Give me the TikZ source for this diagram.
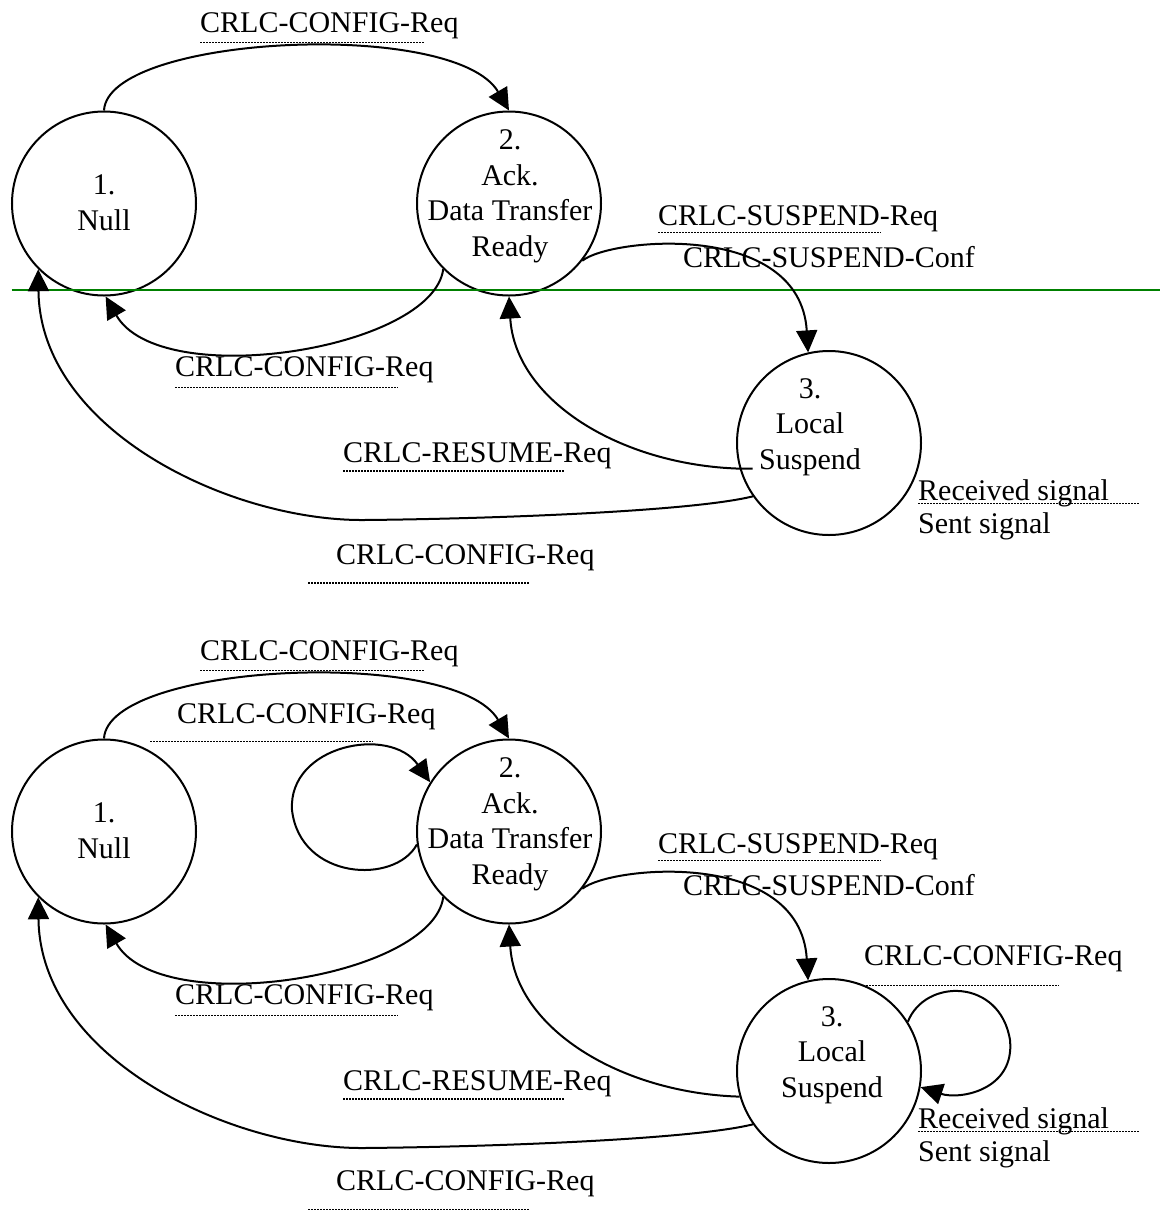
\documentclass[tikz,border=0pt]{standalone}
\usepackage{fontspec}
\setmainfont{Liberation Serif}
\usetikzlibrary{arrows.meta}
\definecolor{divider}{RGB}{0,128,0}
\begin{document}
\begin{tikzpicture}[x=1pt,y=-1pt,
  state/.style={circle,draw,line width=2pt,minimum size=184pt,inner sep=0pt},
  statetext/.style={align=center,inner sep=0pt,anchor=north,font=\fontsize{30}{35.5}\selectfont},
  lbl/.style={anchor=base west,inner sep=0pt,font=\fontsize{30}{36}\selectfont},
  trans/.style={line width=2pt,-{Triangle[length=22pt,width=21pt]}},
  dotline/.style={line width=1.5pt,dash pattern=on 1.5pt off 1.5pt},
]
\useasboundingbox (0,0) rectangle (1160,1211);

% ---------------- upper state diagram ----------------
\node[state] (n1) at (104,203.5) {};
\node[state] (n2) at (509,203.5) {};
\node[state] (n3) at (829,443) {};
\node[statetext] (n1t) at (104,174.7) {1.\\Null};
\node[statetext] (n2t) at (510,129.7) {2.\\Ack.\\Data Transfer\\Ready};
\node[statetext] (n3t) at (810,378) {3.\\Local\\Suspend};

\draw[divider,line width=2pt] (11.7,290) -- (1160,290);

\draw[trans] (n1.90) .. controls (108,35) and (455,18) .. (n2.90);
\draw[trans] (n2.225) .. controls (432,350) and (160,392) .. (n1.-89);
\draw[trans] (n2.-38) .. controls (610,238) and (800,220) .. (n3.103);
\draw[trans] ([xshift=13pt]n3.196) -- (n3.196) .. controls (620,465) and (515,400) .. (n2.-90);
\draw[trans] (n3.215) .. controls (690,512) and (480,519) .. (364,520)
             .. controls (230,521) and (40,430) .. (n1.225);

\node[lbl] (a1) at (200,32.5) {CRLC-CONFIG-Req};
\draw[dotline] (200,42.3) -- (424,42.3);
\node[lbl] (a2) at (175,376) {CRLC-CONFIG-Req};
\draw[dotline] (175,387.5) -- (398,387.5);
\node[lbl] (a3) at (658,225) {CRLC-SUSPEND-Req};
\draw[dotline] (658,232.7) -- (881,232.7);
\node[lbl] (a4) at (683,267) {CRLC-SUSPEND-Conf};
\node[lbl] (a5) at (343,462) {CRLC-RESUME-Req};
\draw[dotline] (343,471) -- (565,471);
\node[lbl] (a6) at (336,564) {CRLC-CONFIG-Req};
\draw[dotline] (308,583) -- (530,583);
\node[lbl] (a7) at (918,500) {Received signal};
\draw[dotline] (918,503.5) -- (1140,503.5);
\node[lbl] (a8) at (918,533.5) {Sent signal};

% ---------------- lower state diagram ----------------
\begin{scope}[shift={(0,628)}]
\node[state] (m1) at (104,203.5) {};
\node[state] (m2) at (509,203.5) {};
\node[state] (m3) at (829,443) {};
\node[statetext] (m1t) at (104,174.7) {1.\\Null};
\node[statetext] (m2t) at (510,129.7) {2.\\Ack.\\Data Transfer\\Ready};
\node[statetext] (m3t) at (832,378) {3.\\Local\\Suspend};

\draw[trans] (m1.90) .. controls (108,35) and (455,18) .. (m2.90);
\draw[trans] (m2.188) .. controls (395,257) and (300,252) .. (292,182)
             .. controls (288,117) and (390,97) .. (m2.148);
\draw[trans] (m2.225) .. controls (432,350) and (160,392) .. (m1.-89);
\draw[trans] (m2.-38) .. controls (610,238) and (800,220) .. (m3.103);
\draw[trans] (m3.196) .. controls (620,465) and (515,400) .. (m2.-90);
\draw[trans] (m3.215) .. controls (690,512) and (480,519) .. (364,520)
             .. controls (230,521) and (40,430) .. (m1.225);
\draw[trans] (m3.32) .. controls (925,350) and (1000,350) .. (1010,412)
             .. controls (1015,462) and (960,472) .. (m3.-10);

\node[lbl] (b1) at (200,32.5) {CRLC-CONFIG-Req};
\draw[dotline] (200,42.3) -- (424,42.3);
\node[lbl] (b2) at (177,95) {CRLC-CONFIG-Req};
\draw[dotline] (150,113.7) -- (373,113.7);
\node[lbl] (b3) at (175,376) {CRLC-CONFIG-Req};
\draw[dotline] (175,387.5) -- (398,387.5);
\node[lbl] (b4) at (658,225) {CRLC-SUSPEND-Req};
\draw[dotline] (658,232.7) -- (881,232.7);
\node[lbl] (b5) at (683,267) {CRLC-SUSPEND-Conf};
\node[lbl] (b6) at (864,337) {CRLC-CONFIG-Req};
\draw[dotline] (866,357.5) -- (1059,357.5);
\node[lbl] (b7) at (343,462) {CRLC-RESUME-Req};
\draw[dotline] (343,471) -- (565,471);
\node[lbl] (b8) at (336,562) {CRLC-CONFIG-Req};
\draw[dotline] (308,581.5) -- (530,581.5);
\node[lbl] (b9) at (918,500) {Received signal};
\draw[dotline] (918,503.5) -- (1140,503.5);
\node[lbl] (b10) at (918,533.5) {Sent signal};
\end{scope}
\end{tikzpicture}
\end{document}
